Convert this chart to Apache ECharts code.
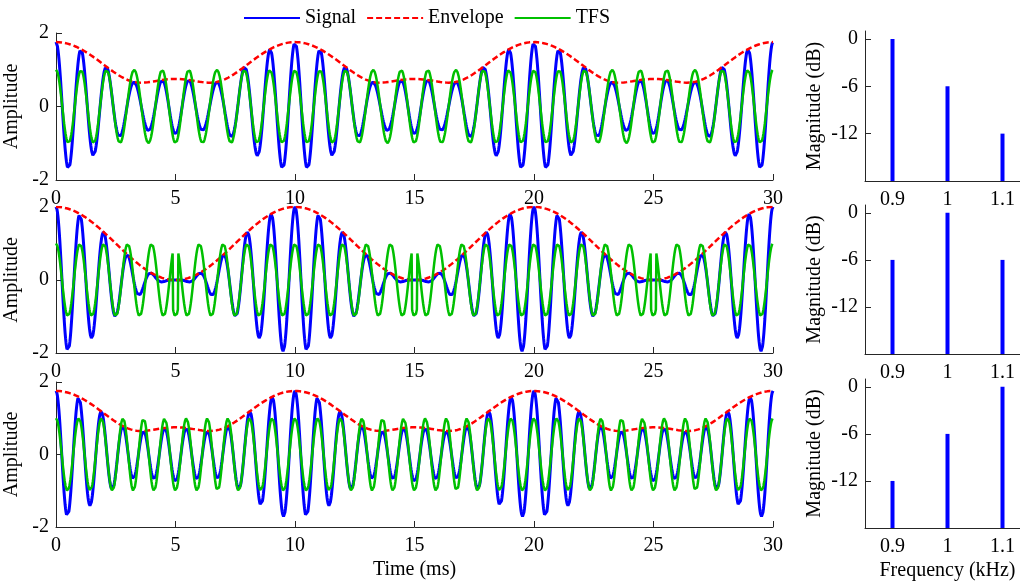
<!DOCTYPE html>
<html>
<head>
<meta charset="utf-8">
<title>Signal, Envelope and TFS</title>
<script src="https://cdn.jsdelivr.net/npm/echarts@6/dist/echarts.min.js"></script>
<style>
html, body { margin: 0; padding: 0; background: #fff; }
#chart { width: 1020px; height: 585px; }
</style>
</head>
<body>
<div id="chart"></div>
<script>
// tone frequencies (kHz)
var toneFreqs = [0.9, 1, 1.1];
// tone levels (dB) for each row
var row1Levels = [0, -6, -12];
var row2Levels = [-6, 0, -6];
var row3Levels = [-12, -6, 0];
var rowLevels = [row1Levels, row2Levels, row3Levels];

var timeTicks = [0, 5, 10, 15, 20, 25, 30];
var ampTicks = [-2, 0, 2];
var dbTicks = [-12, -6, 0];
var freqTicks = [0.9, 1, 1.1];
var legendNames = ['Signal', 'Envelope', 'TFS'];

var FONT = "'Liberation Serif', 'Times New Roman', serif";
var AXIS_COLOR = '#262626';
var BLUE = '#0000ff', RED = '#ff0000', GREEN = '#00c000';

// the waveforms are the sum of the three tones above (t in ms, f in kHz)
// signal = Re z, envelope = |z|, TFS = Re z / |z|
function makeRow(levels) {
	var sig = [], env = [], tfs = [];
	var last = 1;
	for (var i = 0; i <= 1500; i++) {
		var t = i * 0.02;
		var re = 0, im = 0;
		for (var k = 0; k < toneFreqs.length; k++) {
			var a = Math.pow(10, levels[k] / 20);
			var ph = 2 * Math.PI * toneFreqs[k] * t;
			re += a * Math.cos(ph);
			im += a * Math.sin(ph);
		}
		var e = Math.sqrt(re * re + im * im);
		var f = e > 1e-6 ? re / e : last;
		last = f;
		sig.push([t, re]);
		env.push([t, e]);
		tfs.push([t, f]);
	}
	return { sig: sig, env: env, tfs: tfs };
}

// pixel layout of the six panels
var leftGrids = [
	{ left: 56, width: 717, top: 33, height: 147 },
	{ left: 56, width: 717, top: 207, height: 146 },
	{ left: 56, width: 717, top: 382, height: 145 }
];
var rightGrids = [
	{ left: 865, width: 165, top: 31, height: 150 },
	{ left: 865, width: 165, top: 205, height: 149 },
	{ left: 865, width: 165, top: 379, height: 149 }
];

var labelStyle = { fontFamily: FONT, fontSize: 20, color: '#000' };

var grid = [], xAxis = [], yAxis = [], series = [];

for (var r = 0; r < 3; r++) {
	grid.push(Object.assign({ containLabel: false, outerBoundsMode: 'none' }, leftGrids[r]));
	grid.push(Object.assign({ containLabel: false, outerBoundsMode: 'none' }, rightGrids[r]));
	var li = r * 2, ri = r * 2 + 1;
	var last = r === 2;

	xAxis.push({
		gridIndex: li, type: 'value', min: 0, max: 30, interval: 5,
		name: last ? 'Time (ms)' : '', nameLocation: 'middle', nameGap: 33,
		nameTextStyle: labelStyle,
		axisLine: { onZero: false, lineStyle: { color: AXIS_COLOR, width: 1 } },
		axisTick: { inside: true, length: 6, lineStyle: { color: AXIS_COLOR } },
		axisLabel: Object.assign({ margin: 9, customValues: timeTicks }, labelStyle),
		splitLine: { show: false }
	});
	yAxis.push({
		gridIndex: li, type: 'value', min: -2, max: 2, interval: 2,
		name: 'Amplitude', nameLocation: 'middle', nameGap: 23,
		nameTextStyle: labelStyle,
		axisLine: { show: true, lineStyle: { color: AXIS_COLOR, width: 1 } },
		axisTick: { show: true, inside: true, length: 6, lineStyle: { color: AXIS_COLOR } },
		axisLabel: Object.assign({ margin: 7, customValues: ampTicks }, labelStyle),
		splitLine: { show: false }
	});

	xAxis.push({
		gridIndex: ri, type: 'value', min: 0.85, max: 1.15,
		name: last ? 'Frequency (kHz)' : '', nameLocation: 'middle', nameGap: 33,
		nameTextStyle: labelStyle,
		axisLine: { onZero: false, lineStyle: { color: AXIS_COLOR, width: 1 } },
		axisTick: { inside: true, length: 6, customValues: freqTicks, lineStyle: { color: AXIS_COLOR } },
		axisLabel: Object.assign({ margin: 9, customValues: freqTicks }, labelStyle),
		splitLine: { show: false }
	});
	yAxis.push({
		gridIndex: ri, type: 'value', min: -18, max: 1,
		name: 'Magnitude (dB)', nameLocation: 'middle', nameGap: 40,
		nameTextStyle: labelStyle,
		axisLine: { show: true, lineStyle: { color: AXIS_COLOR, width: 1 } },
		axisTick: { show: true, inside: true, length: 6, customValues: dbTicks, lineStyle: { color: AXIS_COLOR } },
		axisLabel: Object.assign({ margin: 7, customValues: dbTicks }, labelStyle),
		splitLine: { show: false }
	});

	var w = makeRow(rowLevels[r]);
	series.push({
		name: 'Signal', type: 'line', xAxisIndex: li, yAxisIndex: li,
		data: w.sig, symbol: 'none', lineStyle: { color: BLUE, width: 3 }, itemStyle: { color: BLUE }
	});
	series.push({
		name: 'Envelope', type: 'line', xAxisIndex: li, yAxisIndex: li,
		data: w.env, symbol: 'none', lineStyle: { color: RED, width: 2.5, type: [6, 3] }, itemStyle: { color: RED }
	});
	series.push({
		name: 'TFS', type: 'line', xAxisIndex: li, yAxisIndex: li,
		data: w.tfs, symbol: 'none', lineStyle: { color: GREEN, width: 2.5 }, itemStyle: { color: GREEN }
	});

	var stems = toneFreqs.map(function (f, k) { return [f, rowLevels[r][k]]; });
	series.push({
		type: 'custom', xAxisIndex: ri, yAxisIndex: ri, data: stems,
		renderItem: function (params, api) {
			var top = api.coord([api.value(0), api.value(1)]);
			var base = api.coord([api.value(0), -18]);
			return {
				type: 'line',
				shape: { x1: top[0], y1: top[1], x2: base[0], y2: base[1] },
				style: { stroke: BLUE, lineWidth: 4 }
			};
		}
	});
}

var myChart = echarts.init(document.getElementById('chart'));
myChart.setOption({
	animation: false,
	backgroundColor: '#fff',
	legend: {
		data: legendNames, left: 238, top: 3,
		itemWidth: 56, itemHeight: 20, itemGap: 10,
		itemStyle: { opacity: 0 },
		textStyle: labelStyle
	},
	grid: grid,
	xAxis: xAxis,
	yAxis: yAxis,
	series: series
});
</script>
</body>
</html>
